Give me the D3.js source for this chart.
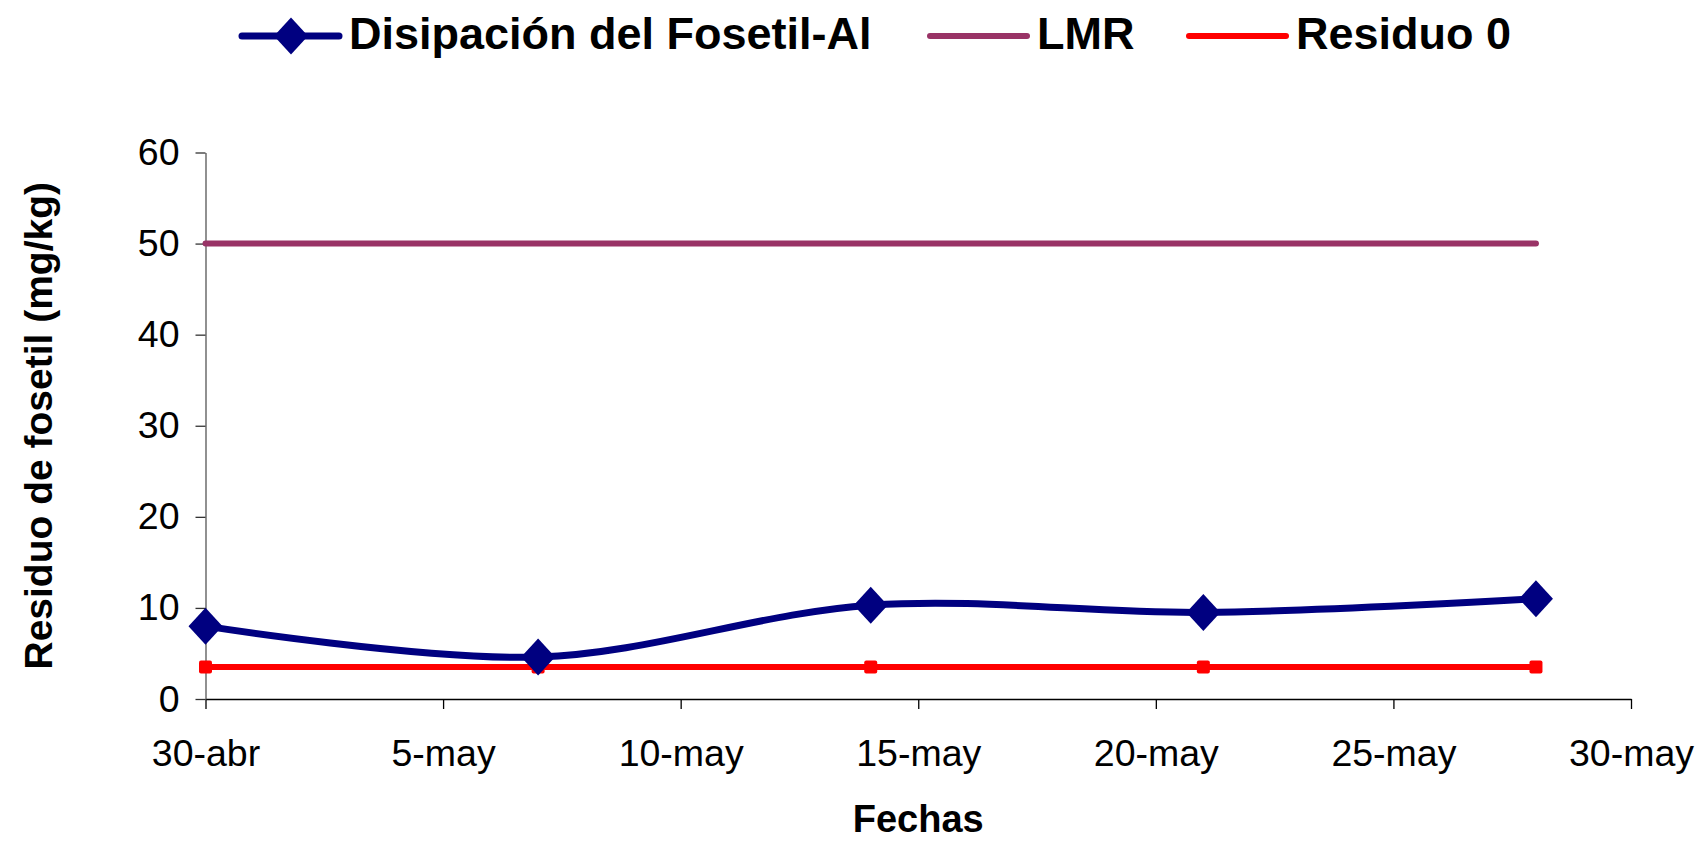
<!DOCTYPE html>
<html>
<head>
<meta charset="utf-8">
<script src="https://cdn.jsdelivr.net/npm/d3@7"></script>
<style>
    body { margin: 0; background: #fff; }
    svg { display: block; font-family: "Liberation Sans", Arial, sans-serif; }
</style>
</head>
<body>
<svg id="chart" width="1695" height="842"></svg>
<script>
// dates of sampling (days counted from 30-abr)
let fechas = ["2009-04-30", "2009-05-07", "2009-05-14", "2009-05-21", "2009-05-28"];
let fosetil = [8.0, 4.6, 10.3, 9.5, 11.0];
let lmr = [50, 50, 50, 50, 50];
let residuo0 = [3.5, 3.5, 3.5, 3.5, 3.5];

let xTickDates = ["2009-04-30", "2009-05-05", "2009-05-10", "2009-05-15", "2009-05-20", "2009-05-25", "2009-05-30"];
let xTickLabels = ["30-abr", "5-may", "10-may", "15-may", "20-may", "25-may", "30-may"];
let yTicks = [0, 10, 20, 30, 40, 50, 60];

let seriesNames = ["Disipación del Fosetil-Al", "LMR", "Residuo 0"];
let colors = ["#000080", "#993366", "#ff0000"];

let margin = {top: 152.5, right: 64, bottom: 143, left: 205.5};
let width = 1695, height = 842;

let svg = d3.select("#chart");
let parse = d3.utcParse("%Y-%m-%d");
let dates = fechas.map(parse);

let x = d3.scaleUtc()
    .domain([parse(xTickDates[0]), parse(xTickDates[xTickDates.length - 1])])
    .range([margin.left, width - margin.right]);

let y = d3.scaleLinear()
    .domain([0, 60])
    .range([height - margin.bottom, margin.top]);

// axes
let tickLabel = {};
xTickDates.forEach((d, i) => tickLabel[+parse(d)] = xTickLabels[i]);

let xAxis = svg.append("g")
    .attr("transform", `translate(0,${y(0)})`)
    .call(d3.axisBottom(x)
        .tickValues(xTickDates.map(parse))
        .tickFormat(d => tickLabel[+d])
        .tickSize(10)
        .tickSizeOuter(0));
xAxis.select(".domain").attr("stroke", "#000").attr("stroke-width", 1.6);
xAxis.selectAll(".tick line").attr("stroke", "#000").attr("stroke-width", 1.3);
xAxis.selectAll(".tick text")
    .attr("y", 54)
    .attr("dy", "0.35em")
    .style("font-size", "37.5px")
    .attr("fill", "#000");

let yAxis = svg.append("g")
    .attr("transform", `translate(${x.range()[0]},0)`)
    .call(d3.axisLeft(y)
        .tickValues(yTicks)
        .tickSize(10)
        .tickSizeOuter(0));
yAxis.select(".domain").attr("stroke", "#555").attr("stroke-width", 1.3);
yAxis.selectAll(".tick line").attr("stroke", "#333").attr("stroke-width", 1.3);
yAxis.selectAll(".tick text")
    .attr("x", -26)
    .style("font-size", "37.5px")
    .attr("fill", "#000");

// axis titles
svg.append("text")
    .attr("x", (x.range()[0] + x.range()[1]) / 2)
    .attr("y", 832)
    .attr("text-anchor", "middle")
    .style("font-size", "38px")
    .style("font-weight", "bold")
    .text("Fechas");

svg.append("text")
    .attr("transform", `translate(52,${(y(0) + y(60)) / 2}) rotate(-90)`)
    .attr("text-anchor", "middle")
    .style("font-size", "39px")
    .style("font-weight", "bold")
    .text("Residuo de fosetil (mg/kg)");

// lines
let straight = d3.line()
    .x((d, i) => x(dates[i]))
    .y(d => y(d));

let smooth = d3.line()
    .x((d, i) => x(dates[i]))
    .y(d => y(d))
    .curve(d3.curveCardinal.tension(0));

svg.append("path")
    .attr("d", straight(lmr))
    .attr("fill", "none")
    .attr("stroke", colors[1])
    .attr("stroke-width", 6)
    .attr("stroke-linecap", "round");

svg.append("path")
    .attr("d", smooth(fosetil))
    .attr("fill", "none")
    .attr("stroke", colors[0])
    .attr("stroke-width", 7)
    .attr("stroke-linejoin", "round");

svg.append("path")
    .attr("d", straight(residuo0))
    .attr("fill", "none")
    .attr("stroke", colors[2])
    .attr("stroke-width", 6);

function diamond(cx, cy){
    return `M${cx},${cy - 18.5}L${cx + 17},${cy}L${cx},${cy + 18.5}L${cx - 17},${cy}Z`;
}

svg.selectAll("rect.res")
    .data(residuo0)
    .enter().append("rect")
    .attr("class", "res")
    .attr("x", (d, i) => x(dates[i]) - 6.5)
    .attr("y", d => y(d) - 6.5)
    .attr("width", 13)
    .attr("height", 13)
    .attr("rx", 2)
    .attr("fill", colors[2]);

svg.selectAll("path.dia")
    .data(fosetil)
    .enter().append("path")
    .attr("class", "dia")
    .attr("d", (d, i) => diamond(x(dates[i]), y(d)))
    .attr("fill", colors[0]);

// legend
let legendX = [242, 930, 1189];
let legendY = 36;
let legend = svg.selectAll("g.legend")
    .data(seriesNames)
    .enter().append("g")
    .attr("class", "legend")
    .attr("transform", (d, i) => `translate(${legendX[i]},${legendY})`);

legend.append("line")
    .attr("x1", 0).attr("x2", 97)
    .attr("stroke", (d, i) => colors[i])
    .attr("stroke-width", (d, i) => i === 0 ? 7 : 6)
    .attr("stroke-linecap", "round");

legend.filter((d, i) => i === 0).append("path")
    .attr("d", diamond(49, 0))
    .attr("fill", colors[0]);

legend.append("text")
    .attr("x", 107)
    .attr("y", 13)
    .style("font-size", "45px")
    .style("font-weight", "bold")
    .text(d => d);
</script>
</body>
</html>
